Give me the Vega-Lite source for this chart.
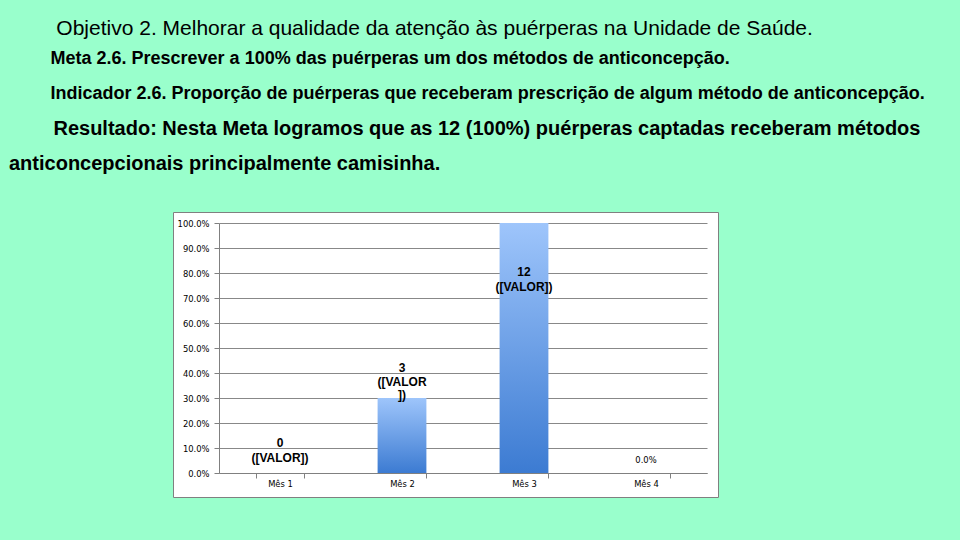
{
  "$schema": "https://vega.github.io/schema/vega-lite/v6.json",
  "background": "#99FFCC",
  "padding": {"left": 8, "top": 17, "right": 80, "bottom": 80},
  "title": {
    "text": "\u200b\u00a0Objetivo 2. Melhorar a qualidade da atenção às puérperas na Unidade de Saúde.",
    "subtitle": [
      "Meta 2.6. Prescrever a 100% das puérperas um dos métodos de anticoncepção.",
      "Indicador 2.6. Proporção de puérperas que receberam prescrição de algum método de anticoncepção."
    ],
    "anchor": "start",
    "dx": 42,
    "baseline": "top",
    "font": "Liberation Sans",
    "fontSize": 21,
    "fontWeight": "normal",
    "color": "#000000",
    "subtitleFont": "Liberation Sans",
    "subtitleFontSize": 18,
    "subtitleFontWeight": "bold",
    "subtitleColor": "#000000",
    "subtitleLineHeight": 35,
    "subtitlePadding": 11,
    "offset": 16
  },
  "vconcat": [
    {
      "title": {
        "text": [
          "\u200b\u00a0\u00a0\u00a0\u00a0\u00a0\u00a0\u00a0\u00a0Resultado: Nesta Meta logramos que as 12 (100%) puérperas captadas receberam métodos",
          "anticoncepcionais principalmente camisinha."
        ],
        "anchor": "start",
        "dx": -164,
        "baseline": "top",
        "font": "Liberation Sans",
        "fontSize": 20,
        "fontWeight": "bold",
        "color": "#000000",
        "lineHeight": 35,
        "offset": 38
      },
      "width": 545,
      "height": 285,
      "data": {
        "values": [
          {"mes": "Mês 1", "proporcao": 0, "rotulo": "0\n([VALOR])"},
          {"mes": "Mês 2", "proporcao": 0.3, "rotulo": "3\n([VALOR\n])"},
          {"mes": "Mês 3", "proporcao": 1, "rotulo": "12\n([VALOR])"},
          {"mes": "Mês 4", "proporcao": 0, "rotulo": "0.0%"}
        ]
      },
      "encoding": {
        "x": {
          "field": "mes",
          "type": "nominal",
          "sort": null,
          "scale": {"range": [46, 534], "paddingInner": 0.6, "paddingOuter": 0.3},
          "axis": {
            "title": null,
            "orient": "bottom",
            "offset": -24,
            "labelAngle": 0,
            "tickBand": "extent",
            "grid": false,
            "domainColor": "#808080",
            "tickColor": "#808080",
            "tickSize": 5,
            "labelFont": "DejaVu Sans",
            "labelFontSize": 8.4,
            "labelColor": "#000000",
            "labelPadding": 1.5
          }
        },
        "y": {
          "field": "proporcao",
          "type": "quantitative",
          "scale": {"domain": [0, 1], "range": [261, 11], "nice": false, "zero": true},
          "axis": {
            "title": null,
            "offset": -46,
            "values": [0, 0.1, 0.2, 0.3, 0.4, 0.5, 0.6, 0.7, 0.8, 0.9, 1],
            "format": ".1%",
            "grid": true,
            "gridColor": "#888888",
            "gridWidth": 1,
            "domainColor": "#808080",
            "tickColor": "#808080",
            "tickSize": 5,
            "labelPadding": 5,
            "labelFont": "DejaVu Sans",
            "labelFontSize": 8.4,
            "labelColor": "#000000",
            "labelFlush": false,
            "labelOverlap": false
          }
        }
      },
      "layer": [
        {
          "mark": {
            "type": "bar",
            "color": {
              "gradient": "linear",
              "x1": 0, "y1": 0, "x2": 0, "y2": 1,
              "stops": [
                {"offset": 0, "color": "#9EC5FB"},
                {"offset": 1, "color": "#3C7BD2"}
              ]
            }
          }
        },
        {
          "transform": [{"filter": "datum.mes === 'Mês 1'"}],
          "mark": {"type": "text", "dy": -30, "font": "Liberation Sans", "fontSize": 12, "fontWeight": "bold", "lineBreak": "\n", "lineHeight": 15, "baseline": "middle", "color": "#000000"},
          "encoding": {"text": {"field": "rotulo"}}
        },
        {
          "transform": [{"filter": "datum.mes === 'Mês 2'"}],
          "mark": {"type": "text", "dy": -30, "font": "Liberation Sans", "fontSize": 12, "fontWeight": "bold", "lineBreak": "\n", "lineHeight": 13.5, "baseline": "middle", "color": "#000000"},
          "encoding": {"text": {"field": "rotulo"}}
        },
        {
          "transform": [{"filter": "datum.mes === 'Mês 3'"}],
          "mark": {"type": "text", "dy": 49, "font": "Liberation Sans", "fontSize": 12, "fontWeight": "bold", "lineBreak": "\n", "lineHeight": 15, "baseline": "middle", "color": "#000000"},
          "encoding": {"text": {"field": "rotulo"}}
        },
        {
          "transform": [{"filter": "datum.mes === 'Mês 4'"}],
          "mark": {"type": "text", "dy": -13, "font": "DejaVu Sans", "fontSize": 8.4, "baseline": "middle", "color": "#000000"},
          "encoding": {"text": {"field": "rotulo"}}
        }
      ]
    }
  ],
  "config": {
    "view": {"fill": "#FFFFFF", "stroke": "#808080", "strokeWidth": 1},
    "concat": {"spacing": 0}
  }
}
